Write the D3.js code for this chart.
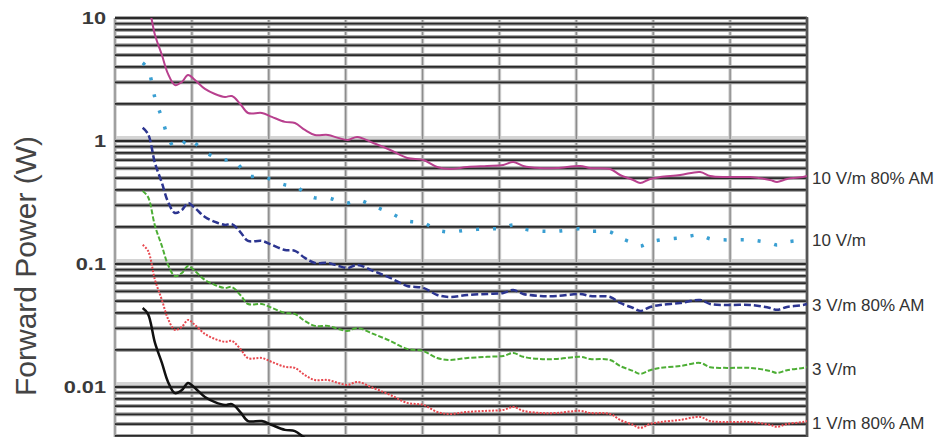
<!DOCTYPE html>
<html>
<head>
<meta charset="utf-8">
<script src="https://cdn.jsdelivr.net/npm/d3@7"></script>
<style>
  body { margin: 0; background: #fff; overflow: hidden; }
  svg { display: block; font-family: "Liberation Sans", Arial, sans-serif; }
</style>
</head>
<body>
<div id="chart"></div>
<script>
window.onload = init;

// frequency (MHz) of every sample, shared by all traces
const freq = [136, 143, 152, 161, 169, 178, 187, 195, 204, 217, 230, 243, 252, 263, 273, 291, 304, 321, 334, 347,
              360, 377, 390, 403, 415, 436, 458, 480, 501, 519, 536, 558, 584, 605, 618, 631, 653, 675, 705, 718,
              744, 757, 774, 783, 796, 809, 835, 861, 874, 896, 926, 952, 961, 974, 995, 1000];

// forward power (W) per trace
const am10 = [14.0, 12.5, 7.27, 5.00, 3.51, 2.85, 3.02, 3.44, 3.13, 2.65, 2.41, 2.28, 2.32, 2.00, 1.69, 1.69, 1.57, 1.43, 1.40, 1.23,
              1.12, 1.12, 1.06, 1.02, 1.08, 0.963, 0.845, 0.728, 0.701, 0.615, 0.592, 0.615, 0.627, 0.638, 0.675, 0.627, 0.603, 0.603, 0.627, 0.603,
              0.592, 0.529, 0.482, 0.456, 0.491, 0.509, 0.529, 0.560, 0.519, 0.509, 0.509, 0.482, 0.465, 0.491, 0.509, 0.519];
const cw10 = [4.31, 3.85, 2.24, 1.54, 1.08, 0.877, 0.929, 1.06, 0.963, 0.815, 0.741, 0.701, 0.714, 0.615, 0.520, 0.520, 0.483, 0.440, 0.431, 0.378,
              0.345, 0.345, 0.326, 0.314, 0.332, 0.296, 0.260, 0.224, 0.216, 0.189, 0.182, 0.189, 0.193, 0.196, 0.208, 0.193, 0.185, 0.185, 0.193, 0.185,
              0.182, 0.163, 0.148, 0.140, 0.151, 0.157, 0.163, 0.172, 0.160, 0.157, 0.157, 0.148, 0.143, 0.151, 0.157, 0.160];
const am3 = [1.28, 1.14, 0.662, 0.456, 0.320, 0.260, 0.275, 0.313, 0.285, 0.241, 0.220, 0.208, 0.211, 0.182, 0.154, 0.154, 0.143, 0.130, 0.128, 0.112,
             0.102, 0.102, 0.0966, 0.0929, 0.0984, 0.0877, 0.0770, 0.0663, 0.0639, 0.0560, 0.0539, 0.0560, 0.0571, 0.0581, 0.0615, 0.0571, 0.0549, 0.0549, 0.0571, 0.0549,
             0.0539, 0.0482, 0.0439, 0.0415, 0.0447, 0.0464, 0.0482, 0.0510, 0.0473, 0.0464, 0.0464, 0.0439, 0.0424, 0.0447, 0.0464, 0.0473];
const cw3 = [0.392, 0.350, 0.204, 0.140, 0.0983, 0.0798, 0.0846, 0.0963, 0.0876, 0.0742, 0.0675, 0.0638, 0.0650, 0.0560, 0.0473, 0.0473, 0.0440, 0.0400, 0.0392, 0.0344,
             0.0314, 0.0314, 0.0297, 0.0286, 0.0302, 0.0270, 0.0237, 0.0204, 0.0196, 0.0172, 0.0166, 0.0172, 0.0176, 0.0179, 0.0189, 0.0176, 0.0169, 0.0169, 0.0176, 0.0169,
             0.0166, 0.0148, 0.0135, 0.0128, 0.0137, 0.0143, 0.0148, 0.0157, 0.0145, 0.0143, 0.0143, 0.0135, 0.0130, 0.0137, 0.0143, 0.0145];
const am1 = [0.143, 0.128, 0.0742, 0.0510, 0.0358, 0.0291, 0.0308, 0.0351, 0.0319, 0.0270, 0.0246, 0.0233, 0.0237, 0.0204, 0.0172, 0.0172, 0.0160, 0.0146, 0.0143, 0.0125,
             0.0114, 0.0114, 0.0108, 0.0104, 0.0110, 0.00982, 0.00862, 0.00743, 0.00715, 0.00627, 0.00604, 0.00627, 0.00640, 0.00651, 0.00689, 0.00640, 0.00615, 0.00615, 0.00640, 0.00615,
             0.00604, 0.00540, 0.00492, 0.00465, 0.00501, 0.00519, 0.00540, 0.00571, 0.00529, 0.00519, 0.00519, 0.00492, 0.00474, 0.00501, 0.00519, 0.00529];
// 1 V/m trace runs off the bottom of the picture, only the visible part
const cw1 = [0.0438, 0.0391, 0.0228, 0.0157, 0.0110, 0.00892, 0.00945, 0.0108, 0.00980, 0.00829, 0.00754, 0.00714, 0.00726, 0.00626, 0.00529, 0.00529, 0.00491, 0.00448, 0.00438, 0.00385,
             0.00351];

const seriesNames = ['10 V/m 80% AM', '10 V/m', '3 V/m 80% AM', '3 V/m', '1 V/m 80% AM', ''];
const yTickValues = [10, 1, 0.1, 0.01];
const yTickLabels = ['10', '1', '0.1', '0.01'];

function init()
{
    const width = 942;
    const height = 437;
    const left = 115, right = 807, top = 18;

    const svg = d3.select('#chart').append('svg').attr('width', width).attr('height', height);

    svg.append('defs').append('clipPath')
        .attr('id', 'clip')
        .append('rect')
        .attr('x', left).attr('y', top)
        .attr('width', right - left)
        .attr('height', height - top);

    const x = d3.scaleLinear().domain([100, 1000]).range([left, right]);
    const y = d3.scaleLog().domain([0.001, 10]).range([top + 4 * 123, top]);

    const grid = svg.append('g');

    // light bands that sit on each decade line
    grid.selectAll('.band').data(yTickValues.slice(1)).enter().append('rect')
        .attr('x', left).attr('width', right - left)
        .attr('y', d => y(d) - 5).attr('height', 6)
        .attr('fill', '#d4d4d4');

    // vertical grid
    const xt = x.ticks(10);
    grid.selectAll('.vh').data(xt).enter().append('line')
        .attr('x1', d => x(d)).attr('x2', d => x(d))
        .attr('y1', top).attr('y2', height)
        .attr('stroke', '#d0d0d0').attr('stroke-width', 3.5);
    grid.selectAll('.v').data(xt).enter().append('line')
        .attr('x1', d => x(d)).attr('x2', d => x(d))
        .attr('y1', top).attr('y2', height)
        .attr('stroke', '#8c8c8c').attr('stroke-width', 1.4);

    // horizontal grid (log minor lines)
    const yt = y.ticks().filter(d => d <= 10);
    grid.selectAll('.hh').data(yt).enter().append('line')
        .attr('x1', left).attr('x2', right)
        .attr('y1', d => y(d)).attr('y2', d => y(d))
        .attr('stroke', '#a8a8a8').attr('stroke-width', 4);
    grid.selectAll('.h').data(yt).enter().append('line')
        .attr('x1', left).attr('x2', right)
        .attr('y1', d => y(d)).attr('y2', d => y(d))
        .attr('stroke', '#2a2a2a').attr('stroke-width', 1.8);

    // right border
    grid.append('line')
        .attr('x1', right).attr('x2', right).attr('y1', top - 1).attr('y2', height)
        .attr('stroke', '#555').attr('stroke-width', 2.5);

    const traces = [am10, cw10, am3, cw3, am1, cw1];
    const styles = [
        { color: '#b8408e', width: 2, dash: null },
        { color: '#3a9fd2', width: 3.5, dash: '3,14' },
        { color: '#2c3590', width: 2.5, dash: '7,3' },
        { color: '#4dae35', width: 2, dash: '5,2' },
        { color: '#e8484f', width: 2, dash: '2,1.5' },
        { color: '#111', width: 2.5, dash: null }
    ];

    const line = d3.line()
        .x((d, i) => x(freq[i]))
        .y(d => y(d))
        .curve(d3.curveCatmullRom);

    const g = svg.append('g').attr('clip-path', 'url(#clip)');
    g.selectAll('path').data(traces).enter().append('path')
        .attr('d', line)
        .attr('fill', 'none')
        .attr('stroke', (d, i) => styles[i].color)
        .attr('stroke-width', (d, i) => styles[i].width)
        .attr('stroke-dasharray', (d, i) => styles[i].dash);

    // trace names at the right end
    svg.selectAll('.name').data(traces).enter().append('text')
        .attr('x', right + 5)
        .attr('y', d => y(d[d.length - 1]) + 2)
        .attr('dominant-baseline', 'central')
        .attr('font-size', 17)
        .attr('fill', '#333')
        .text((d, i) => seriesNames[i]);

    // y tick labels
    svg.selectAll('.tick').data(yTickValues).enter().append('g')
        .attr('transform', d => 'translate(106,' + y(d) + ') scale(1.28,1)')
        .append('text')
        .attr('text-anchor', 'end')
        .attr('dominant-baseline', 'central')
        .attr('font-size', 17)
        .attr('font-weight', 'bold')
        .attr('fill', '#3a3a3a')
        .text((d, i) => yTickLabels[i]);

    svg.append('text')
        .attr('transform', 'translate(36,266) rotate(-90)')
        .attr('text-anchor', 'middle')
        .attr('font-size', 30)
        .attr('fill', '#444')
        .text('Forward Power (W)');
}
</script>
</body>
</html>
